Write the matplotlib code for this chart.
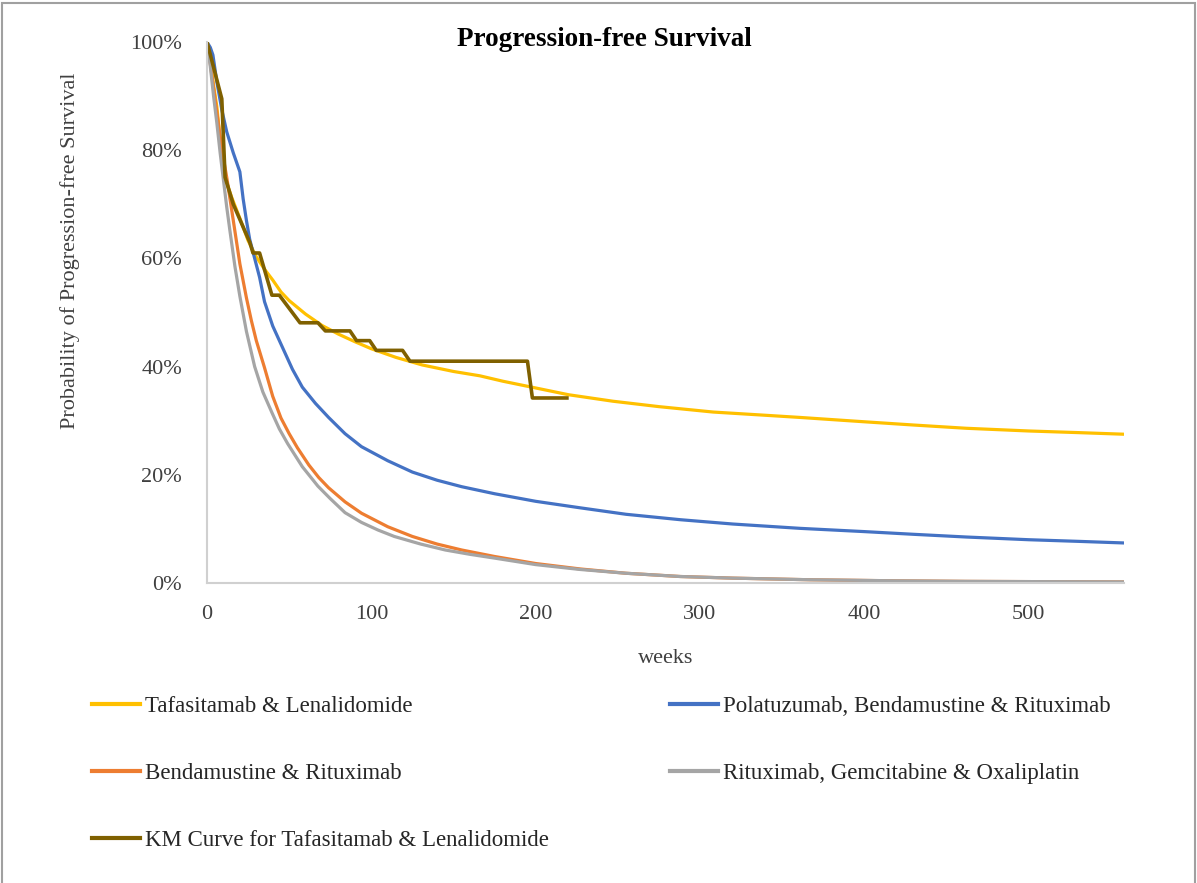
import matplotlib.pyplot as plt
from matplotlib.lines import Line2D
from matplotlib.patches import Rectangle
from matplotlib.ticker import PercentFormatter

plt.rcParams['font.family'] = ['Liberation Serif', 'DejaVu Serif']

# Modelled progression-free survival per regimen (weeks, % progression-free)
tafa_weeks = [0, 2, 4, 6, 8, 10, 12, 15, 20, 25, 30, 35, 40, 45, 50, 60, 70, 80, 90, 100,
              115, 131, 150, 166, 180, 196, 220, 247, 275, 308, 340, 361, 400, 430, 462, 500, 530, 558]
tafa_pfs = [100, 97, 92, 88, 82, 76.5, 74, 71.3, 67.4, 63.3, 60.3, 58, 56, 53.8, 52.2, 49.7, 47.6, 46, 44.6, 43.3,
            41.7, 40.3, 39.1, 38.3, 37.3, 36.3, 34.8, 33.6, 32.6, 31.6, 31.0, 30.6, 29.8, 29.2, 28.6, 28.1, 27.8, 27.5]

pola_weeks = [0, 2, 3.6, 6, 9, 12, 16, 20, 22, 24, 26, 29, 32, 35, 40, 46, 52, 58, 66, 74, 84, 94,
              110, 125, 140, 155, 175, 200, 227, 255, 288, 320, 361, 400, 430, 462, 500, 530, 558]
pola_pfs = [100, 99, 97.6, 92.6, 87.5, 83.4, 79.5, 76, 71, 67, 63.5, 60, 56.5, 52, 47.5, 43.5, 39.5, 36.2, 33.2, 30.6, 27.6, 25.2,
            22.6, 20.5, 19, 17.8, 16.5, 15.1, 13.9, 12.7, 11.7, 10.9, 10.1, 9.5, 9.0, 8.5, 8.0, 7.7, 7.4]

br_weeks = [0, 2, 4, 6, 8, 10, 12, 15, 17, 20, 24, 27, 30, 35, 40, 45, 50, 55, 62, 68, 74, 84, 94,
            110, 125, 140, 155, 175, 200, 227, 255, 288, 320, 367, 420, 462, 510, 558]
br_pfs = [100, 96, 91.5, 87, 82.5, 78.5, 75, 69, 65, 59, 52.7, 48.5, 44.8, 39.8, 34.5, 30.5, 27.6, 25, 21.8, 19.5, 17.6, 15, 12.9,
          10.4, 8.6, 7.2, 6.1, 4.9, 3.6, 2.6, 1.8, 1.2, 0.9, 0.6, 0.4, 0.3, 0.25, 0.2]

gemox_weeks = [0, 2, 4, 6, 8, 10, 12, 14, 17, 20, 24, 29, 34, 39.5, 44, 49, 58, 67.5, 75, 84, 94,
               104, 114, 130, 145, 160, 175, 200, 227, 255, 288, 320, 367, 420, 462, 510, 558]
gemox_pfs = [100, 95.5, 90, 85, 79.5, 74.5, 69.5, 65, 58.5, 53, 46.5, 40, 35.3, 31.5, 28.5, 25.8, 21.5, 17.9, 15.6, 13.0, 11.2,
             9.8, 8.6, 7.2, 6.1, 5.3, 4.6, 3.4, 2.5, 1.8, 1.2, 0.9, 0.6, 0.4, 0.3, 0.25, 0.2]

# Kaplan-Meier estimate for tafasitamab + lenalidomide
km_weeks = [0, 9, 11, 16, 26, 28, 32, 39.5, 44, 56.6, 67.5, 72, 87, 91, 99, 103, 119, 123.5, 195, 198, 219]
km_pfs = [100, 89.5, 75, 70, 63, 61, 61, 53.2, 53.2, 48.1, 48.1, 46.6, 46.6, 44.8, 44.8, 43.0, 43.0, 41.0, 41.0, 34.2, 34.2]

labels = ["Tafasitamab & Lenalidomide",
          "Polatuzumab, Bendamustine & Rituximab",
          "Bendamustine & Rituximab",
          "Rituximab, Gemcitabine & Oxaliplatin",
          "KM Curve for Tafasitamab & Lenalidomide"]
colors = ["#FFC000", "#4472C4", "#ED7D31", "#A5A5A5", "#7F6000"]

fig = plt.figure(figsize=(11.97, 8.83), dpi=100)
ax = fig.add_axes([207 / 1197, 1 - 583 / 883, (1124 - 207) / 1197, (583 - 42) / 883])

series = [(tafa_weeks, tafa_pfs), (pola_weeks, pola_pfs), (br_weeks, br_pfs),
          (gemox_weeks, gemox_pfs), (km_weeks, km_pfs)]
widths = [2.3, 2.3, 2.3, 2.3, 2.6]
for (x, y), c, lw, lab in zip(series, colors, widths, labels):
    ax.plot(x, y, color=c, lw=lw, label=lab)

ax.set_xlim(0, 558)
ax.set_ylim(0, 100)
ax.set_xticks([0, 100, 200, 300, 400, 500])
ax.set_yticks([0, 20, 40, 60, 80, 100])
ax.yaxis.set_major_formatter(PercentFormatter(xmax=100, decimals=0))
ax.tick_params(axis='both', length=0, labelsize=16, colors='#404040')
ax.tick_params(axis='y', pad=18)
ax.tick_params(axis='x', pad=16)
for s in ['top', 'right']:
    ax.spines[s].set_visible(False)
for s in ['left', 'bottom']:
    ax.spines[s].set_color('#D0D0D0')
    ax.spines[s].set_linewidth(1.5)

ax.set_xlabel("weeks", fontsize=16, color='#404040', labelpad=18)
fig.text(70 / 1197, 1 - 251 / 883, "Probability of Progression-free Survival",
         rotation=90, ha='center', va='center', fontsize=16, color='#404040')
fig.text(604 / 1197, 1 - 40 / 883, "Progression-free Survival",
         ha='center', va='center', fontsize=19.5, fontweight='bold', color='black')

# legend: two columns, filled column by column
order = [0, 2, 4, 1, 3]
handles = [Line2D([], [], color=colors[i], lw=3) for i in order]
fig.legend(handles, [labels[i] for i in order], ncol=2, loc='upper left',
           bbox_to_anchor=(92 / 1197, 1 - 696 / 883), frameon=False,
           fontsize=16.5, handlelength=2.1, handletextpad=0.2,
           labelspacing=2.0, columnspacing=5.3, borderpad=0, borderaxespad=0,
           labelcolor='#262626')

fig.patches.append(Rectangle((2 / 1197, -0.01), 1193 / 1197, 1.01 - 3 / 883,
                             transform=fig.transFigure, fill=False,
                             edgecolor='#A0A0A0', lw=1.5))

fig.savefig("out.png", dpi=100)
